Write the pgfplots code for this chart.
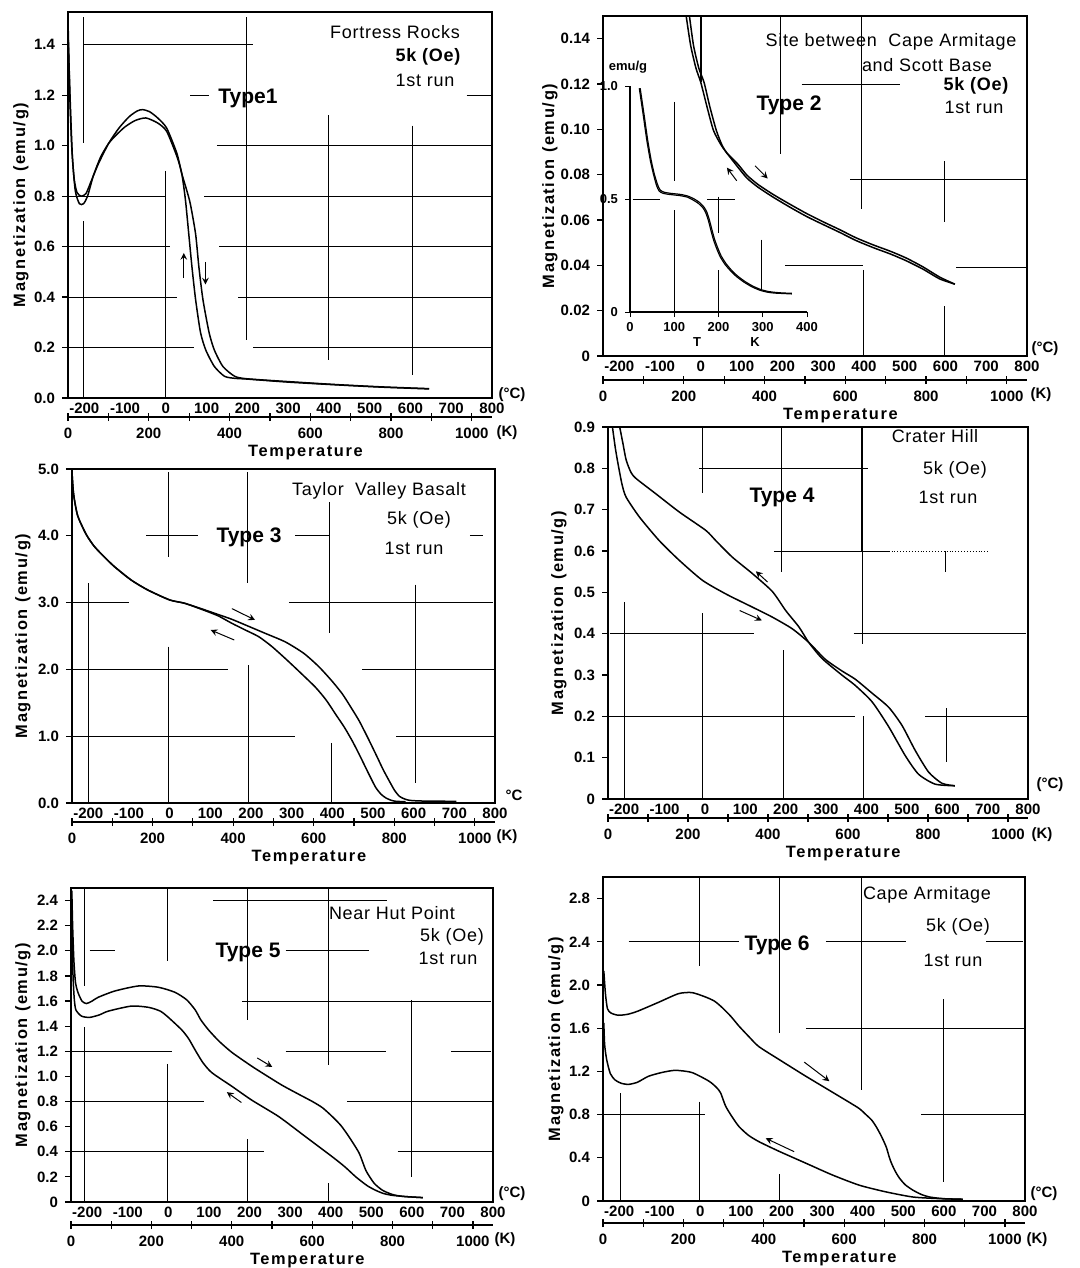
\documentclass[border=0pt]{standalone}
\usepackage{fontspec}
\setmainfont{Liberation Sans}
\newfontfamily\lsp[LetterSpace=10]{Liberation Sans}
\newfontfamily\asp[LetterSpace=4]{Liberation Sans}
\usepackage{pgfplots}
\pgfplotsset{compat=1.18}

\newcommand\tf{\fontsize{7.5}{9}\selectfont\bfseries}
\newcommand\xtf{\fontsize{7.5}{9}\selectfont\bfseries}
\newcommand\itf{\fontsize{6.5}{7.5}\selectfont\bfseries}
\newcommand\labf{\lsp\fontsize{8.2}{10}\selectfont\bfseries}
\newcommand\annf{\asp\fontsize{9}{10}\selectfont}
\newcommand\typef{\fontsize{10.5}{12}\selectfont\bfseries}
\newcommand\tx[4]{\node[font=#1] at ({#2*0.5pt},{-#3*0.5pt}) {#4};}
\newcommand\gl[4]{\draw[grd] (axis cs:#1,#2) -- (axis cs:#3,#4);}

\tikzset{
 grd/.style={black, line width=0.45pt},
 arr/.style={-stealth, line width=0.5pt},
}
\pgfplotsset{
 mainax/.style={scale only axis, anchor=south west, xmin=-240, xmax=800, ymin=0,
   axis line style={line width=1.1pt}, tick pos=left, clip mode=individual,
   xtick={-200,-100,0,100,200,300,400,500,600,700,800},
   xticklabels={-200,-100,0,100,200,300,400,500,600,700,800},
   xtick style={draw=none}, ytick style={black,line width=0.6pt}, ytick align=outside,
   major tick length=3pt,
   yticklabel style={font=\tf}, xticklabel style={font=\xtf, yshift=1pt},
   ylabel={Magnetization (emu/g)},
   ylabel style={font=\labf, at={(axis description cs:0,0.5)}, anchor=center}},
 kax/.style={scale only axis, anchor=south west, height=2pt, xmin=0, xmax=1050, ymin=0, ymax=1,
   axis x line=bottom, axis y line=none, axis line style={-,line width=1.1pt},
   xtick={0,200,400,600,800,1000}, minor xtick={100,300,500,700,900},
   xticklabels={0,200,400,600,800,1000},
   tick style={black,line width=0.6pt}, tick align=center, major tick length=4pt, minor tick length=4pt,
   ticklabel style={font=\tf},
   xlabel={Temperature},
   xlabel style={font=\labf, at={(axis description cs:0.56,0)}, anchor=north, yshift=-10.5pt}},
 cur/.style={black, line width=0.75pt, smooth, tension=0.4, mark=none},
}

\begin{document}
\begin{tikzpicture}
\path[use as bounding box] (0,0) rectangle (540pt,-634pt);

%================ Panel 1 =================
\begin{axis}[mainax, at={(34pt,-199pt)}, width=212pt, height=193pt, ymax=1.53,
  ytick={0,0.2,0.4,0.6,0.8,1.0,1.2,1.4}, yticklabels={0.0,0.2,0.4,0.6,0.8,1.0,1.2,1.4},
  ylabel style={yshift=23.5pt}]
\gl{-203}{1.51}{-203}{1.01}\gl{-203}{0.70}{-203}{0}\gl{0}{0.90}{0}{0}
\gl{197}{1.51}{197}{0.23}\gl{399}{1.12}{399}{0.15}\gl{605}{1.08}{605}{0.09}
\gl{-203}{1.4}{215}{1.4}\gl{60}{1.2}{106}{1.2}\gl{738}{1.2}{800}{1.2}
\gl{125}{1.0}{800}{1.0}\gl{-240}{0.8}{0}{0.8}\gl{94}{0.8}{800}{0.8}
\gl{-240}{0.6}{10}{0.6}\gl{131}{0.6}{800}{0.6}\gl{-240}{0.4}{27}{0.4}\gl{177}{0.4}{800}{0.4}
\gl{-240}{0.2}{69}{0.2}\gl{215}{0.2}{800}{0.2}
\addplot[cur] coordinates {(-240,1.50) (-236,1.22) (-231,1.00) (-225,0.87) (-218,0.815) (-208,0.80) (-196,0.81) (-183,0.86) (-165,0.93) (-140,1.01) (-115,1.07) (-90,1.115) (-70,1.138) (-57,1.143) (-40,1.135) (-20,1.11) (2,1.07) (27,0.97) (39,0.89) (50,0.83) (60,0.77) (73,0.65) (81,0.52) (91,0.39) (106,0.26) (119,0.19) (140,0.125) (169,0.086) (200,0.076) (300,0.065) (420,0.053) (530,0.044) (646,0.037)};
\addplot[cur] coordinates {(-240,1.45) (-238,1.35) (-234,1.15) (-229,0.95) (-222,0.82) (-212,0.77) (-202,0.77) (-192,0.80) (-178,0.88) (-160,0.955) (-140,1.01) (-120,1.045) (-100,1.075) (-75,1.10) (-49,1.11) (-20,1.09) (2,1.057) (27,0.958) (39,0.89) (48,0.786) (56,0.654) (64,0.52) (73,0.39) (85,0.26) (98,0.19) (119,0.125) (144,0.086) (169,0.078) (200,0.075) (300,0.063) (420,0.052) (530,0.043) (646,0.036)};
\draw[arr] (axis cs:44,0.475) -- (axis cs:44,0.575);
\draw[arr] (axis cs:97,0.54) -- (axis cs:97,0.45);
\end{axis}
\begin{axis}[kax, at={(34pt,-208.5pt)}, width=212pt]
\end{axis}
\tx{\tf}{512}{395}{(°C)}
\tx{\tf}{507}{433}{(K)}
\tx{\annf}{395}{32}{Fortress Rocks}
\tx{\annf\bfseries}{428}{57}{5k (Oe)}
\tx{\annf}{425}{80}{1st run}
\tx{\typef}{248}{98}{Type1}

%================ Panel 2 =================
\begin{axis}[mainax, at={(301.5pt,-178pt)}, width=212pt, height=170pt, ymax=0.15,
  ytick={0,0.02,0.04,0.06,0.08,0.10,0.12,0.14}, yticklabels={0,0.02,0.04,0.06,0.08,0.10,0.12,0.14},
  ylabel style={yshift=26.5pt}]
\draw[black,line width=1pt] (axis cs:0,0.15) -- (axis cs:0,0.121);
\gl{196}{0.15}{196}{0.089}\gl{393}{0.15}{393}{0.065}\gl{398}{0.038}{398}{0}
\gl{598}{0.086}{598}{0.059}\gl{598}{0.022}{598}{0}
\gl{247}{0.12}{488}{0.12}\gl{366}{0.078}{800}{0.078}\gl{207}{0.040}{398}{0.040}\gl{627}{0.039}{800}{0.039}
\addplot[cur] coordinates {(-36,0.15) (-25,0.137) (-12,0.127) (0,0.1206) (15,0.110) (31,0.0995) (50,0.093) (64,0.0895) (90,0.0835) (113,0.0785) (140,0.0745) (178,0.0700) (220,0.0655) (260,0.0615) (300,0.0580) (341,0.0545) (380,0.0510) (423,0.0478) (465,0.0450) (504,0.0420) (545,0.0383) (586,0.0340) (623,0.0317)};
\addplot[cur] coordinates {(-28,0.15) (-18,0.137) (-5,0.127) (8,0.1206) (22,0.110) (38,0.0995) (52,0.093) (64,0.0895) (90,0.0848) (113,0.0798) (140,0.0757) (178,0.0712) (220,0.0668) (260,0.0628) (300,0.0592) (341,0.0557) (380,0.0522) (423,0.0490) (465,0.0462) (504,0.0432) (545,0.0393) (586,0.0348) (623,0.0317)};
\draw[arr] (axis cs:88,0.0773) -- (axis cs:64,0.0831);
\draw[arr] (axis cs:133,0.0839) -- (axis cs:164,0.0783);
\end{axis}
% inset
\begin{axis}[scale only axis, anchor=south west, at={(315pt,-156pt)}, width=88.5pt, height=113pt,
  xmin=0, xmax=400, ymin=0, ymax=1.0, axis x line=bottom, axis y line=left,
  axis line style={-,line width=0.9pt}, clip mode=individual,
  xtick={0,100,200,300,400}, xticklabels={0,100,200,300,400},
  ytick={0,0.5,1.0}, yticklabels={0,0.5,1.0},
  tick style={black,line width=0.5pt}, major tick length=2.5pt, tick align=outside,
  ticklabel style={font=\itf}, xticklabel style={yshift=1pt}]
\gl{100}{0.93}{100}{0.58}\gl{100}{0.45}{100}{0}\gl{200}{0.51}{200}{0.35}\gl{200}{0.185}{200}{0}
\gl{298}{0.32}{298}{0.096}\gl{6}{0.5}{68}{0.5}\gl{175}{0.5}{238}{0.5}
\addplot[cur, line width=0.6pt] coordinates {(21,0.99) (30,0.87) (38,0.76) (46,0.67) (53,0.61) (60,0.56) (66,0.535) (75,0.525) (90,0.52) (113,0.515) (130,0.508) (143,0.495) (155,0.48) (166,0.458) (172,0.435) (177,0.406) (183,0.36) (189,0.318) (196,0.28) (204,0.244) (215,0.21) (226,0.185) (240,0.158) (257,0.133) (275,0.112) (294,0.096) (310,0.088) (325,0.084) (345,0.082) (366,0.080)};
\addplot[cur, line width=0.6pt] coordinates {(23,0.99) (32,0.87) (40,0.76) (48,0.67) (55,0.61) (62,0.565) (68,0.54) (77,0.53) (92,0.525) (115,0.52) (132,0.512) (145,0.50) (157,0.485) (168,0.462) (174,0.44) (179,0.41) (185,0.365) (191,0.322) (198,0.285) (206,0.248) (217,0.214) (228,0.188) (242,0.161) (259,0.136) (277,0.115) (296,0.099) (312,0.091) (327,0.087) (347,0.084) (366,0.083)};
\end{axis}
\begin{axis}[kax, at={(301.5pt,-190pt)}, width=212pt]
\end{axis}
\tx{\tf}{1045}{349}{(°C)}
\tx{\tf}{1041}{395}{(K)}
\tx{\itf}{628}{67}{emu/g}
\tx{\itf}{697}{342}{T}
\tx{\itf}{755}{342}{K}
\tx{\annf}{891}{42}{Site between\ \ Cape Armitage}
\tx{\annf}{927}{65}{and Scott Base}
\tx{\annf\bfseries}{976}{86}{5k (Oe)}
\tx{\annf}{974}{107}{1st run}
\tx{\typef}{789}{105}{Type 2}

%================ Panel 3 =================
\begin{axis}[mainax, at={(36pt,-401.5pt)}, width=211.5pt, height=167pt, ymax=5.0,
  ytick={0,1,2,3,4,5}, yticklabels={0.0,1.0,2.0,3.0,4.0,5.0},
  ylabel style={yshift=24.5pt}]
\gl{-2}{4.95}{-2}{3.69}\gl{-2}{2.34}{-2}{0}\gl{192}{4.95}{192}{3.29}\gl{195}{2.06}{195}{0}
\gl{392}{4.5}{392}{2.54}\gl{397}{0.9}{397}{0}\gl{605}{3.27}{605}{0.3}\gl{-200}{3.29}{-200}{0}
\gl{-58}{4.0}{70}{4.0}\gl{309}{4.0}{392}{4.0}\gl{738}{4.0}{771}{4.0}
\gl{-240}{3.0}{-99}{3.0}\gl{293}{3.0}{796}{3.0}\gl{-240}{2.0}{143}{2.0}\gl{474}{2.0}{800}{2.0}
\gl{-240}{1.0}{309}{1.0}\gl{557}{1.0}{800}{1.0}
\addplot[cur] coordinates {(-240,4.95) (-236,4.62) (-226,4.30) (-205,4.02) (-185,3.84) (-160,3.68) (-136,3.54) (-95,3.34) (-54,3.19) (0,3.04) (37,2.99) (87,2.89) (120,2.82) (153,2.75) (200,2.63) (235,2.54) (285,2.41) (330,2.24) (367,2.04) (400,1.82) (425,1.63) (446,1.43) (466,1.23) (487,0.98) (507,0.73) (525,0.50) (540,0.33) (553,0.19) (565,0.10) (578,0.06) (590,0.04) (620,0.03) (705,0.025)};
\addplot[cur] coordinates {(-240,4.95) (-236,4.62) (-226,4.30) (-205,4.02) (-185,3.84) (-160,3.68) (-136,3.54) (-95,3.34) (-54,3.19) (0,3.04) (37,2.99) (87,2.88) (120,2.80) (153,2.69) (186,2.59) (219,2.49) (250,2.35) (285,2.16) (320,1.96) (359,1.73) (385,1.54) (408,1.33) (430,1.13) (449,0.93) (466,0.73) (482,0.53) (495,0.37) (507,0.23) (520,0.13) (532,0.075) (545,0.04) (557,0.025) (580,0.02)};
\draw[arr] (axis cs:153,2.91) -- (axis cs:210,2.74);
\draw[arr] (axis cs:159,2.44) -- (axis cs:101,2.59);
\end{axis}
\begin{axis}[kax, at={(36pt,-411pt)}, width=211.5pt]
\end{axis}
\tx{\tf}{514}{795}{°C}
\tx{\tf}{507}{837}{(K)}
\tx{\annf}{379}{491}{Taylor\ \ Valley Basalt}
\tx{\annf}{419}{520}{5k (Oe)}
\tx{\annf}{414}{548}{1st run}
\tx{\typef}{249}{537}{Type 3}

%================ Panel 4 =================
\begin{axis}[mainax, at={(304pt,-399.5pt)}, width=210pt, height=186pt, ymax=0.9,
  ytick={0,0.1,0.2,0.3,0.4,0.5,0.6,0.7,0.8,0.9}, yticklabels={0,0.1,0.2,0.3,0.4,0.5,0.6,0.7,0.8,0.9},
  ylabel style={yshift=24.5pt}]
\gl{-6}{0.9}{-6}{0.74}\gl{-6}{0.45}{-6}{0}\gl{190}{0.9}{190}{0.55}\gl{195}{0.36}{195}{0}
\draw[black,line width=1pt] (axis cs:389,0.9) -- (axis cs:389,0.6);
\gl{389}{0.6}{389}{0.375}\gl{392}{0.2}{392}{0}\gl{596}{0.6}{596}{0.55}\gl{598}{0.22}{598}{0.09}
\gl{-200}{0.476}{-200}{0}
\gl{-14}{0.8}{405}{0.8}\gl{171}{0.6}{455}{0.6}\draw[grd,densely dotted] (axis cs:455,0.6) -- (axis cs:705,0.6);
\gl{-236}{0.4}{122}{0.4}\gl{368}{0.4}{796}{0.4}\gl{-240}{0.2}{372}{0.2}\gl{545}{0.2}{800}{0.2}
\addplot[cur] coordinates {(-211,0.9) (-203,0.86) (-195,0.82) (-183,0.79) (-170,0.775) (-121,0.738) (-63,0.694) (2,0.65) (27,0.625) (68,0.585) (118,0.545) (167,0.502) (200,0.456) (233,0.416) (257,0.379) (290,0.34) (339,0.30) (372,0.275) (414,0.235) (455,0.175) (496,0.105) (529,0.06) (570,0.036) (619,0.032)};
\addplot[cur] coordinates {(-229,0.9) (-222,0.85) (-215,0.81) (-205,0.76) (-195,0.73) (-162,0.682) (-113,0.625) (-63,0.577) (-6,0.529) (52,0.496) (118,0.464) (167,0.44) (216,0.412) (257,0.379) (298,0.338) (339,0.31) (372,0.29) (414,0.256) (455,0.222) (488,0.178) (521,0.117) (554,0.065) (587,0.038) (619,0.032)};
\draw[arr] (axis cs:155,0.525) -- (axis cs:126,0.551);
\draw[arr] (axis cs:86,0.456) -- (axis cs:141,0.432);
\end{axis}
\begin{axis}[kax, at={(304pt,-409pt)}, width=210pt]
\end{axis}
\tx{\tf}{1050}{785}{(°C)}
\tx{\tf}{1042}{835}{(K)}
\tx{\annf}{935}{436}{Crater Hill}
\tx{\annf}{955}{470}{5k (Oe)}
\tx{\annf}{948}{497}{1st run}
\tx{\typef}{782}{497}{Type 4}

%================ Panel 5 =================
\begin{axis}[mainax, at={(35.5pt,-601pt)}, width=211pt, height=157pt, ymax=2.5,
  ytick={0,0.2,0.4,0.6,0.8,1.0,1.2,1.4,1.6,1.8,2.0,2.2,2.4}, yticklabels={0,0.2,0.4,0.6,0.8,1.0,1.2,1.4,1.6,1.8,2.0,2.2,2.4},
  ylabel style={yshift=24pt}]
\gl{-206}{2.5}{-206}{1.72}\gl{-206}{1.39}{-206}{0}\gl{-2}{2.5}{-2}{1.92}\gl{-2}{1.1}{-2}{0}
\gl{194}{2.5}{194}{1.45}\gl{194}{0.5}{194}{0}\gl{394}{2.5}{394}{1.09}\gl{394}{0.15}{394}{0}
\gl{598}{1.61}{598}{0.2}
\gl{111}{2.4}{540}{2.4}\gl{-194}{2.0}{-132}{2.0}\gl{289}{2.0}{495}{2.0}
\gl{181}{1.6}{796}{1.6}\gl{-240}{1.2}{8}{1.2}\gl{289}{1.2}{536}{1.2}\gl{697}{1.2}{796}{1.2}
\gl{-240}{0.8}{87}{0.8}\gl{441}{0.8}{800}{0.8}\gl{-240}{0.4}{235}{0.4}\gl{565}{0.4}{800}{0.4}
\addplot[cur] coordinates {(-238,2.48) (-236,2.2) (-233,1.93) (-229,1.75) (-223,1.67) (-213,1.60) (-202,1.58) (-188,1.60) (-173,1.63) (-132,1.68) (-74,1.72) (-25,1.71) (16,1.67) (45,1.61) (66,1.53) (80,1.45) (99,1.37) (125,1.28) (157,1.19) (206,1.08) (240,1.01) (280,0.93) (320,0.86) (355,0.80) (380,0.75) (404,0.68) (425,0.61) (445,0.52) (470,0.39) (487,0.25) (507,0.15) (528,0.093) (552,0.06) (577,0.045) (627,0.035)};
\addplot[cur] coordinates {(-239,2.45) (-237,2.1) (-235,1.8) (-232,1.62) (-228,1.53) (-214,1.48) (-194,1.47) (-170,1.49) (-148,1.52) (-91,1.56) (-49,1.55) (-20,1.52) (0,1.47) (33,1.37) (50,1.30) (66,1.21) (85,1.11) (107,1.03) (157,0.92) (206,0.81) (272,0.68) (338,0.52) (404,0.36) (435,0.28) (462,0.20) (490,0.13) (511,0.093) (530,0.068) (552,0.053) (590,0.042) (627,0.035)};
\draw[arr] (axis cs:219,1.147) -- (axis cs:256,1.075);
\draw[arr] (axis cs:180,0.792) -- (axis cs:144,0.875);
\end{axis}
\begin{axis}[kax, at={(35.5pt,-612.5pt)}, width=211pt]
\end{axis}
\tx{\tf}{512}{1194}{(°C)}
\tx{\tf}{505}{1240}{(K)}
\tx{\annf}{392}{913}{Near Hut Point}
\tx{\annf}{452}{937}{5k (Oe)}
\tx{\annf}{448}{958}{1st run}
\tx{\typef}{248}{952}{Type 5}

%================ Panel 6 =================
\begin{axis}[mainax, at={(301.5pt,-600.5pt)}, width=211pt, height=162pt, ymax=3.0,
  ytick={0,0.4,0.8,1.2,1.6,2.0,2.4,2.8}, yticklabels={0,0.4,0.8,1.2,1.6,2.0,2.4,2.8},
  ylabel style={yshift=23.5pt}]
\gl{-2}{3.0}{-2}{2.18}\gl{-2}{0.92}{-2}{0}\gl{195}{3.0}{195}{1.56}\gl{195}{0.25}{195}{0}
\gl{396}{3.0}{396}{1.03}\gl{598}{1.87}{598}{0.18}\gl{-198}{1.0}{-198}{0}
\gl{-177}{2.4}{95}{2.4}\gl{309}{2.4}{507}{2.4}\gl{705}{2.4}{796}{2.4}
\gl{260}{1.6}{800}{1.6}\gl{-240}{0.8}{12}{0.8}\gl{544}{0.8}{800}{0.8}
\addplot[cur] coordinates {(-238,2.13) (-234,1.92) (-229,1.78) (-220,1.74) (-202,1.72) (-178,1.73) (-153,1.76) (-103,1.84) (-54,1.92) (-21,1.93) (12,1.89) (35,1.85) (54,1.79) (75,1.71) (95,1.62) (120,1.52) (144,1.43) (194,1.31) (260,1.155) (342,0.97) (390,0.86) (408,0.80) (422,0.75) (433,0.69) (446,0.60) (458,0.50) (466,0.40) (472,0.34) (481,0.27) (491,0.21) (505,0.15) (524,0.10) (545,0.06) (565,0.037) (598,0.022) (647,0.016)};
\addplot[cur] coordinates {(-238,1.65) (-236,1.45) (-231,1.31) (-222,1.18) (-210,1.12) (-195,1.09) (-177,1.08) (-155,1.10) (-128,1.155) (-95,1.19) (-62,1.21) (-21,1.19) (21,1.11) (40,1.05) (50,1.00) (62,0.88) (78,0.78) (95,0.69) (118,0.61) (144,0.55) (194,0.46) (260,0.35) (326,0.24) (392,0.146) (458,0.084) (524,0.037) (590,0.022) (647,0.016)};
\draw[arr] (axis cs:256,1.286) -- (axis cs:318,1.109);
\draw[arr] (axis cs:231,0.457) -- (axis cs:161,0.581);
\end{axis}
\begin{axis}[kax, at={(301.5pt,-611.5pt)}, width=211pt]
\end{axis}
\tx{\tf}{1044}{1194}{(°C)}
\tx{\tf}{1037}{1240}{(K)}
\tx{\annf}{927}{895}{Cape Armitage}
\tx{\annf}{958}{927}{5k (Oe)}
\tx{\annf}{953}{960}{1st run}
\tx{\typef}{777}{945}{Type 6}
\end{tikzpicture}
\end{document}
